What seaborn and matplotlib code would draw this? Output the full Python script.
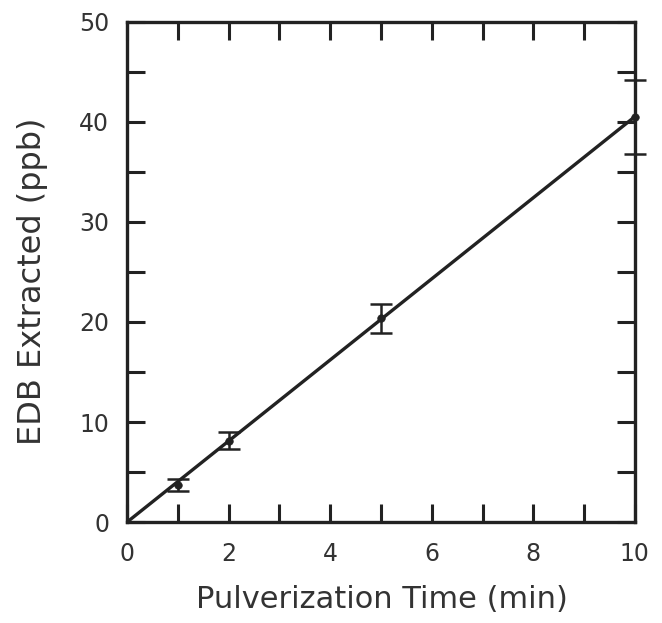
import numpy as np
import pandas as pd
import matplotlib
matplotlib.use("Agg")
import matplotlib.pyplot as plt
import seaborn as sns

# Data
time_min = [1, 2, 5, 10]
edb_ppb = [3.7, 8.15, 20.35, 40.5]
edb_err = [0.6, 0.85, 1.45, 3.7]

x_ticks = [0, 2, 4, 6, 8, 10]
y_ticks = [0, 10, 20, 30, 40, 50]

sns.set_theme(style="white")
plt.rcParams['font.family'] = ['DejaVu Sans']

df = pd.DataFrame({"t": time_min, "edb": edb_ppb, "err": edb_err})

# Least-squares line through the origin
slope = np.sum(df.t * df.edb) / np.sum(df.t ** 2)
fit = pd.DataFrame({"t": [0, 10]})
fit["edb"] = slope * fit["t"]

fig = plt.figure(figsize=(6.62, 6.23), dpi=100)
ax = fig.add_axes([0.192, 0.162, 0.767, 0.803])

ink = "#222222"
txt = "#333333"
sns.lineplot(data=fit, x="t", y="edb", ax=ax, color=ink, linewidth=2.4)
ax.errorbar(df.t, df.edb, yerr=df.err, fmt="none", ecolor=ink,
            elinewidth=1.8, capsize=8, capthick=1.8, clip_on=False, zorder=3)
sns.scatterplot(data=df, x="t", y="edb", ax=ax, color=ink, s=30,
                edgecolor=ink, zorder=4, clip_on=False)

ax.set_xlim(0, 10)
ax.set_ylim(0, 50)
ax.set_xticks(x_ticks)
ax.set_yticks(y_ticks)
ax.set_xticks(np.arange(0, 11, 1), minor=True)
ax.set_yticks(np.arange(0, 51, 5), minor=True)
for which in ("major", "minor"):
    ax.tick_params(axis="both", which=which, direction="in", length=13,
                   width=2.2, color=ink, top=True, right=True,
                   bottom=True, left=True)
ax.tick_params(axis="x", which="major", labelsize=17, labelcolor=txt, pad=14)
ax.tick_params(axis="y", which="major", labelsize=17, labelcolor=txt, pad=13)

for s in ax.spines.values():
    s.set_color(ink)
    s.set_linewidth(2.4)
    s.set_visible(True)

ax.set_xlabel("Pulverization Time (min)", fontsize=22, color=txt)
ax.set_ylabel("EDB Extracted (ppb)", fontsize=23, color=txt)
ax.xaxis.set_label_coords(0.502, -0.125)
ax.yaxis.set_label_coords(-0.155, 0.482)
ax.grid(False)

fig.savefig("out.png", dpi=100)
